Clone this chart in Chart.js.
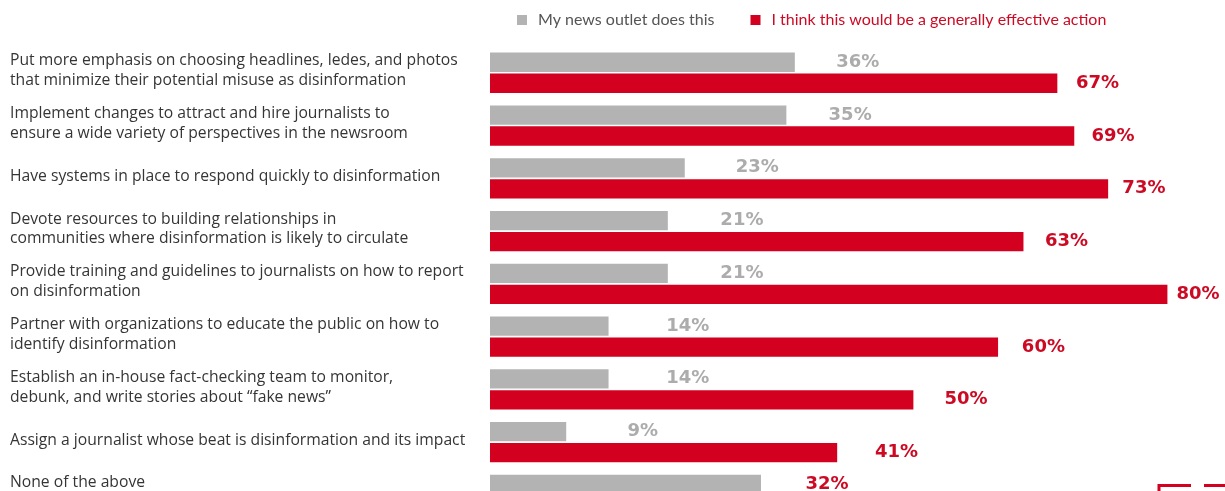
<!DOCTYPE html>
<html>
<head>
<meta charset="utf-8">
<script src="https://cdn.jsdelivr.net/npm/chart.js@4/dist/chart.umd.min.js"></script>
<style>
  html, body { margin: 0; padding: 0; background: #fff; overflow: hidden; }
  #wrap { position: relative; width: 1225px; height: 491px; overflow: hidden; }
  #box { width: 1225px; height: 560px; }
</style>
</head>
<body>
<div id="wrap"><div id="box"><canvas id="c"></canvas></div></div>
<script>
// Survey actions (multi-line labels are arrays of lines)
const categories = [
  ["Put more emphasis on choosing headlines, ledes, and photos", "that minimize their potential misuse as disinformation"],
  ["Implement changes to attract and hire journalists to", "ensure a wide variety of perspectives in the newsroom"],
  "Have systems in place to respond quickly to disinformation",
  ["Devote resources to building relationships in", "communities where disinformation is likely to circulate"],
  ["Provide training and guidelines to journalists on how to report", "on disinformation"],
  ["Partner with organizations to educate the public on how to", "identify disinformation"],
  ["Establish an in-house fact-checking team to monitor,", "debunk, and write stories about \u201cfake news\u201d"],
  "Assign a journalist whose beat is disinformation and its impact",
  ["None of the above", ""]
];

// Percent of respondents
const outletDoesThis   = [36, 35, 23, 21, 21, 14, 14, 9, 32];
const wouldBeEffective = [67, 69, 73, 63, 80, 60, 50, 41, null];

const seriesNames = ["My news outlet does this", "I think this would be a generally effective action"];

const GRAY = '#b3b3b3';
const GRAY_TEXT = '#acacac';
const RED = '#d3001f';
const RED_TEXT = '#cc0a24';
const LABEL_TEXT = '#353535';

// Percentage labels to the right of each bar
const valueLabels = {
  id: 'valueLabels',
  afterDatasetsDraw(chart) {
    const ctx = chart.ctx;
    const xs = chart.scales.x;
    ctx.save();
    ctx.font = 'bold 18px "DejaVu Sans"';
    ctx.textAlign = 'left';
    ctx.textBaseline = 'middle';
    chart.data.datasets.forEach((ds, di) => {
      const meta = chart.getDatasetMeta(di);
      meta.data.forEach((bar, i) => {
        const v = ds.data[i];
        if (v == null) return;
        // labels ride on a slightly compressed track beyond the bars
        const x = xs.getPixelForValue(v * 0.913) + 68;
        let color = di === 0 ? GRAY_TEXT : RED_TEXT;
        if (di === 0 && i === categories.length - 1) color = RED_TEXT;
        ctx.fillStyle = color;
        ctx.fillText(v + '%', x, bar.y);
      });
    });
    ctx.restore();
  }
};

// Key row across the top
const keyRow = {
  id: 'keyRow',
  afterDraw(chart) {
    const ctx = chart.ctx;
    ctx.save();
    ctx.font = '16px Lato';
    ctx.textBaseline = 'middle';
    ctx.textAlign = 'left';
    let x = 517;
    const y = 20;
    chart.data.datasets.forEach((ds, di) => {
      ctx.fillStyle = ds.backgroundColor;
      ctx.fillRect(x, y - 5, 10, 10);
      x += 21;
      ctx.fillStyle = di === 0 ? '#555555' : RED_TEXT;
      ctx.fillText(ds.label, x, y);
      x += ctx.measureText(ds.label).width + 36;
    });
    ctx.restore();
  }
};

// Red corner mark at the lower right
const cornerMark = {
  id: 'cornerMark',
  afterDraw(chart) {
    const ctx = chart.ctx;
    ctx.save();
    ctx.strokeStyle = RED;
    ctx.lineWidth = 3;
    ctx.beginPath();
    ctx.moveTo(1159, 500);
    ctx.lineTo(1159, 485.5);
    ctx.lineTo(1191, 485.5);
    ctx.moveTo(1204, 485.5);
    ctx.lineTo(1226, 485.5);
    ctx.stroke();
    ctx.restore();
  }
};

new Chart(document.getElementById('c'), {
  type: 'bar',
  data: {
    labels: categories,
    datasets: [
      { label: seriesNames[0], data: outletDoesThis, backgroundColor: GRAY },
      { label: seriesNames[1], data: wouldBeEffective, backgroundColor: RED }
    ]
  },
  options: {
    indexAxis: 'y',
    responsive: true,
    maintainAspectRatio: false,
    animation: false,
    events: [],
    categoryPercentage: 0.796,
    barPercentage: 0.92,
    layout: { padding: { left: 10, top: 46.4, right: 0, bottom: 38.8 } },
    scales: {
      x: { display: false, min: 0, max: 86.8 },
      y: {
        grid: { display: false },
        border: { display: false },
        afterFit(s) { s.width = 480; },
        ticks: {
          autoSkip: false,
          crossAlign: 'far',
          padding: 0,
          labelOffset: -2,
          color: LABEL_TEXT,
          font: { family: 'Open Sans', size: 15.7, lineHeight: 1.27 }
        }
      }
    },
    plugins: {
      legend: { display: false },
      tooltip: { enabled: false }
    }
  },
  plugins: [valueLabels, keyRow, cornerMark]
});
</script>
</body>
</html>
